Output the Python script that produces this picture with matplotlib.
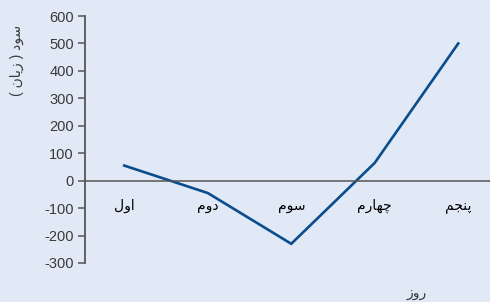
import numpy as np
import matplotlib
matplotlib.use("Agg")
from matplotlib import pyplot as plt

# data
days = ["اول", "دوم", "سوم", "چهارم", "پنجم"]
profit = [55, -45, -230, 65, 500]
y_ticks = [-300, -200, -100, 0, 100, 200, 300, 400, 500, 600]
y_title = "سود ( زیان )"
x_title = "روز"

# persian letters -> (isolated, final, initial, medial); None = does not join forward
forms = {
    "ا": ("\uFE8D", "\uFE8E", None, None),
    "و": ("\uFEED", "\uFEEE", None, None),
    "د": ("\uFEA9", "\uFEAA", None, None),
    "ر": ("\uFEAD", "\uFEAE", None, None),
    "ز": ("\uFEAF", "\uFEB0", None, None),
    "ل": ("\uFEDD", "\uFEDE", "\uFEDF", "\uFEE0"),
    "م": ("\uFEE1", "\uFEE2", "\uFEE3", "\uFEE4"),
    "س": ("\uFEB1", "\uFEB2", "\uFEB3", "\uFEB4"),
    "چ": ("\uFB7A", "\uFB7B", "\uFB7C", "\uFB7D"),
    "ه": ("\uFEE9", "\uFEEA", "\uFEEB", "\uFEEC"),
    "پ": ("\uFB56", "\uFB57", "\uFB58", "\uFB59"),
    "ن": ("\uFEE5", "\uFEE6", "\uFEE7", "\uFEE8"),
    "ج": ("\uFE9D", "\uFE9E", "\uFE9F", "\uFEA0"),
    "ی": ("\uFBFC", "\uFBFD", "\uFBFE", "\uFBFF"),
}


def shape(text):
    # simple contextual shaping + visual (LTR) ordering for matplotlib
    out = []
    for i, c in enumerate(text):
        if c not in forms:
            out.append(c)
            continue
        prev = text[i - 1] if i > 0 else ""
        nxt = text[i + 1] if i + 1 < len(text) else ""
        join_prev = prev in forms and forms[prev][2] is not None
        join_next = nxt in forms and forms[c][2] is not None
        iso, fin, ini, med = forms[c]
        if join_prev and join_next:
            out.append(med)
        elif join_prev:
            out.append(fin)
        elif join_next:
            out.append(ini)
        else:
            out.append(iso)
    s = "".join(reversed(out))
    return s.translate(str.maketrans("()", ")("))


fam = ["Liberation Sans", "DejaVu Sans"]
plt.rcParams["font.family"] = fam
plt.rcParams["axes.unicode_minus"] = False

bg = "#e0e9f5"
txt = "#3a3a3a"
fig = plt.figure(figsize=(4.9, 3.02), dpi=100, facecolor=bg)
ax = fig.add_axes([85 / 490, 39 / 302, 1 - 85 / 490, 247 / 302])
ax.set_facecolor(bg)

x = np.arange(len(days))
ax.plot(x, profit, color="#0a4c8c", lw=1.9, solid_joinstyle="miter")

ax.set_xlim(-0.47, 4.38)
ax.set_ylim(-300, 600)
ax.set_yticks(y_ticks)
ax.set_xticks(x)
ax.set_xticklabels([shape(d) for d in days], fontsize=10, color=txt)

for s in ["top", "right"]:
    ax.spines[s].set_visible(False)
ax.spines["bottom"].set_position(("data", 0))
ax.spines["bottom"].set_color("#555555")
ax.spines["bottom"].set_linewidth(1.1)
ax.spines["left"].set_color("#555555")
ax.spines["left"].set_linewidth(1.3)

ax.tick_params(axis="x", length=0, pad=13)
ax.tick_params(axis="y", length=5, width=1.1, color="#555555", pad=3,
               labelsize=10.5, labelcolor=txt)

fig.text(17 / 490, 1 - 60 / 302, shape(y_title), rotation=90, ha="center",
         va="center", fontsize=10, color=txt)
fig.text(417 / 490, 1 - 293 / 302, shape(x_title), ha="center", va="center",
         fontsize=10, color=txt)

fig.savefig("out.png", dpi=100, facecolor=bg)
